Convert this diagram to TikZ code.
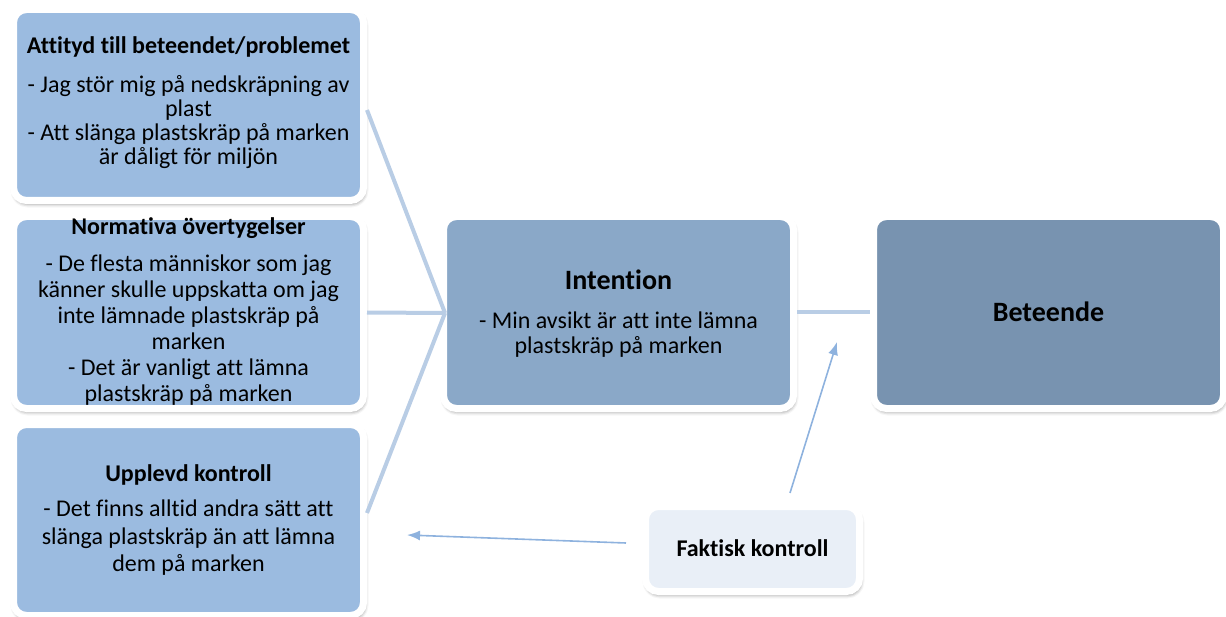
\documentclass[tikz,border=0pt]{standalone}
\usepackage{fontspec}
\setmainfont{Carlito}[Ligatures=NoCommon]
\usetikzlibrary{shadows.blur,arrows.meta,calc}
\definecolor{lbox}{RGB}{155,187,224}
\definecolor{ibox}{RGB}{138,168,200}
\definecolor{bbox}{RGB}{120,147,176}
\definecolor{fbox}{RGB}{233,239,247}
\definecolor{conn}{RGB}{185,205,229}
\definecolor{arr}{RGB}{142,178,222}
\begin{document}
\begin{tikzpicture}[x=1pt,y=-1pt,
  card/.style={draw=white,line width=7pt,rounded corners=13pt,inner sep=0pt,
    blur shadow={shadow xshift=1pt,shadow yshift=-3pt,shadow blur radius=4pt,shadow opacity=55}},
  ttl/.style={font=\bfseries\fontsize{24}{26}\selectfont,inner sep=0pt,align=center},
  bigttl/.style={font=\bfseries\fontsize{28}{30}\selectfont,inner sep=0pt,align=center},
  body/.style={font=\fontsize{24}{#1}\selectfont,inner sep=0pt,align=center},
  body/.default=25,
  link/.style={draw=conn,line width=4pt},
  arrline/.style={draw=arr,line width=1.6pt,-{Latex[length=13pt,width=10pt]}}
]
\useasboundingbox (0,0) rectangle (1226,617);
% boxes
\node[card,fill=lbox,minimum width=350pt,minimum height=191pt] (att) at (188.5,105) {};
\node[card,fill=lbox,minimum width=350pt,minimum height=192pt] (nor) at (188.5,312.5) {};
\node[card,fill=lbox,minimum width=350pt,minimum height=191pt] (upp) at (188.5,520) {};
\node[card,fill=ibox,minimum width=350pt,minimum height=192pt] (int) at (618.5,312.5) {};
\node[card,fill=bbox,minimum width=350pt,minimum height=192pt] (bet) at (1048.5,312.5) {};
\node[card,fill=fbox,minimum width=214pt,minimum height=85pt] (fak) at (752.5,549) {};
% texts
\node[ttl] (attT) at (188.5,47) {Attityd till beteendet/problemet};
\node[body=24] (attB) at (188.5,122) {- Jag stör mig på nedskräpning av\\plast\\- Att slänga plastskräp på marken\\är dåligt för miljön};
\node[ttl] (norT) at (188.5,228) {Normativa övertygelser};
\node[body=26] (norB) at (188.5,330) {- De flesta människor som jag\\känner skulle uppskatta om jag\\inte lämnade plastskräp på\\marken\\- Det är vanligt att lämna\\plastskräp på marken};
\node[ttl] (uppT) at (188.5,475) {Upplevd kontroll};
\node[body=27.5] (uppB) at (188.5,538) {- Det finns alltid andra sätt att\\slänga plastskräp än att lämna\\dem på marken};
\node[bigttl] (intT) at (618.5,280) {Intention};
\node[body=25] (intB) at (618.5,334.5) {- Min avsikt är att inte lämna\\plastskräp på marken};
\node[bigttl] (betT) at (1048.5,312) {Beteende};
\node[ttl] (fakT) at (752.5,548) {Faktisk kontroll};
% connectors
\coordinate (meet) at (445,313);
\draw[link] ($(att.east)+(0,5)$) -- (meet);
\draw[link] (nor.east) -- (meet);
\draw[link] ($(upp.east)+(0,-7)$) -- (meet);
\draw[link] (int.east) -- (bet.west);
\coordinate (a1s) at (790,493);
\coordinate (a1e) at (837,342);
\coordinate (a2s) at (626,543);
\coordinate (a2e) at (407,535);
\draw[arrline] (a1s) -- (a1e);
\draw[arrline] (a2s) -- (a2e);
\end{tikzpicture}
\end{document}
